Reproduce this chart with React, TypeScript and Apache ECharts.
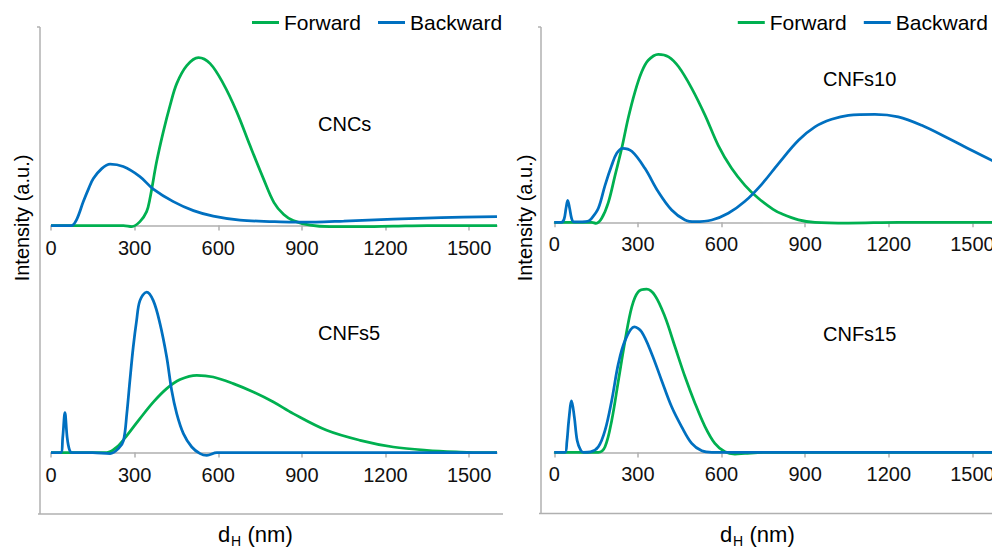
import React, { useEffect, useRef } from "react";
import * as echarts from "echarts";

const FONT = "'Liberation Sans', Arial, Helvetica, sans-serif";
const GREEN = "#00B050";
const BLUE = "#0070C0";
const GRAY = "#B0B0B0";

const xTicks = [0, 300, 600, 900, 1200, 1500];
const seriesNames = ["Forward", "Backward"];
const panelNames = ["CNCs", "CNFs10", "CNFs5", "CNFs15"];

// [d_H (nm), intensity (a.u.)]
const cncsForward = [
  [0, 0], [100, 0], [200, 0], [260, 0], [290, -1], [319, 4], [343, 14], [355, 27], [379, 64],
  [403, 94], [427, 120], [451, 142], [487, 160], [529, 168], [571, 162], [618, 142], [666, 114],
  [714, 80], [762, 47], [800, 23], [835, 11], [869, 5], [929, 0.5], [1000, -1], [1100, -1],
  [1228, -0.5], [1350, 0], [1600, 0],
];
const cncsBackward = [
  [0, 0], [50, 0], [74, 0], [92, 6], [116, 24], [135, 37], [152, 47], [182, 57], [212, 61.5],
  [259, 59], [319, 49], [367, 36.5], [439, 24], [511, 15], [582, 9.5], [678, 5.5], [798, 4],
  [869, 3.5], [950, 3.5], [1050, 4.5], [1228, 6.5], [1400, 8], [1600, 9],
];
const cnfs10Forward = [
  [0, 0], [100, 0], [135, 0], [150, -1], [170, 4], [194, 20], [218, 47], [242, 74], [265, 104],
  [289, 130], [313, 150], [337, 162], [373, 168], [410, 165.5], [446, 155.5], [493, 134],
  [541, 107], [588, 77], [636, 54], [684, 37], [732, 24], [785, 13], [816, 8.5], [876, 2.5],
  [935, 0], [1055, -0.7], [1234, 0], [1600, 0],
];
const cnfs10Backward = [
  [0, 0], [25, 0], [35, 3], [42, 14], [48, 22], [55, 14], [62, 4], [70, 0.5], [100, 0.5],
  [120, 1], [134, 4], [158, 14], [182, 37], [206, 57], [224, 69], [245, 74], [278, 71],
  [325, 54], [373, 30.5], [421, 12.3], [469, 2.3], [505, 0.6], [565, 2.3], [624, 9], [684, 21],
  [744, 38], [805, 59], [876, 82], [935, 95.5], [995, 103], [1055, 107], [1150, 108],
  [1234, 105.5], [1318, 97], [1413, 84], [1497, 72], [1569, 62], [1600, 58],
];
const cnfs5Forward = [
  [0, 0], [100, 0], [200, 0], [236, 5.5], [272, 17], [319, 34], [367, 50.5], [415, 64],
  [463, 73], [523, 77.3], [582, 75.6], [654, 69], [726, 60.6], [798, 50.6], [869, 39],
  [989, 22.3], [1109, 12.3], [1228, 5.6], [1348, 2.3], [1468, 0.6], [1550, 0], [1600, 0],
];
const cnfs5Backward = [
  [0, 0], [35, 0], [42, 15], [50, 40], [58, 15], [66, 3], [75, 0], [150, 0], [212, -1],
  [242, 4], [260, 12], [272, 39], [283, 72], [295, 105.6], [307, 132], [319, 152], [343, 160.6],
  [367, 152], [391, 129], [415, 95.6], [433, 62], [451, 39], [475, 19], [505, 5.6], [535, -1],
  [559, -2.7], [595, 0], [700, 0], [1600, 0],
];
const cnfs15Forward = [
  [0, 0], [100, 0], [158, 0], [182, 5.6], [206, 32], [230, 72], [254, 112], [278, 145.6],
  [301, 160.6], [331, 163.3], [361, 157], [397, 135.6], [433, 105.6], [469, 75.6], [505, 49],
  [541, 25.6], [576, 9], [612, 0.6], [648, -1.7], [684, -1], [750, 0], [1600, 0],
];
const cnfs15Backward = [
  [0, 0], [38, 0], [45, 10], [52, 32], [62, 51.6], [72, 35], [82, 12], [95, 2], [105, 0],
  [130, 0.5], [158, 5.6], [182, 22], [206, 52], [230, 89], [254, 112], [287, 125.6],
  [313, 120.6], [349, 99], [385, 72], [421, 45.6], [457, 25.6], [493, 9], [529, 1.6], [565, 0],
  [1600, 0],
];

const panelData = [
  [cncsForward, cncsBackward],
  [cnfs10Forward, cnfs10Backward],
  [cnfs5Forward, cnfs5Backward],
  [cnfs15Forward, cnfs15Backward],
];

export default function App() {
  const ref = useRef<HTMLDivElement>(null);

  useEffect(() => {
    if (!ref.current) return;
    const chart = echarts.init(ref.current, null, { renderer: "svg" });

    const grids = [
      { left: 51, top: 35.6, width: 446, height: 200 },
      { left: 554.3, top: 32.3, width: 446, height: 200 },
      { left: 51, top: 262.6, width: 446, height: 200 },
      { left: 554.3, top: 262.4, width: 446, height: 200 },
    ].map((g) => ({ ...g, containLabel: false, outerBoundsMode: "none" }));
    const labelPos = [
      [318, 124],
      [823, 79],
      [318, 332.5],
      [823, 333.5],
    ];

    const xAxes = grids.map((_, i) => ({
      type: "value",
      gridIndex: i,
      min: 0,
      max: 1600,
      axisLine: { show: true, onZero: true, lineStyle: { color: GRAY, width: 1.5 } },
      axisTick: { show: true, length: 5, customValues: xTicks, lineStyle: { color: GRAY, width: 1.5 } },
      axisLabel: {
        customValues: xTicks,
        fontSize: 20,
        color: "#111",
        fontFamily: FONT,
        margin: 2,
        hideOverlap: false,
        formatter: (v: number) => String(v),
      },
      splitLine: { show: false },
    }));
    const yAxes = grids.map((_, i) => ({
      type: "value",
      gridIndex: i,
      min: -10,
      max: 190,
      show: false,
    }));

    const series: any[] = [];
    panelData.forEach((pair, i) => {
      pair.forEach((d, k) => {
        series.push({
          type: "line",
          name: seriesNames[k],
          xAxisIndex: i,
          yAxisIndex: i,
          data: d,
          smooth: 0.35,
          symbol: "none",
          lineStyle: { width: 2.75, color: k === 0 ? GREEN : BLUE },
          itemStyle: { color: k === 0 ? GREEN : BLUE },
          z: 2 + k,
        });
      });
    });

    const legendBase = {
      top: 12,
      padding: 0,
      icon: "rect",
      itemWidth: 27,
      itemHeight: 3,
      itemGap: 17,
      selectedMode: false,
      data: seriesNames,
      textStyle: { fontSize: 21, color: "#000", fontFamily: FONT },
    };

    const graphic: any[] = [];
    // frame lines
    [[40, 503, 514], [541, 992, 513.5]].forEach(([x, xr, yb]) => {
      graphic.push({ type: "line", shape: { x1: x, y1: 27, x2: x, y2: yb }, style: { stroke: GRAY, lineWidth: 1.5 } });
      graphic.push({ type: "line", shape: { x1: x - 3, y1: 27, x2: x, y2: 27 }, style: { stroke: GRAY, lineWidth: 1.5 } });
      graphic.push({ type: "line", shape: { x1: x - 2, y1: yb, x2: xr, y2: yb }, style: { stroke: GRAY, lineWidth: 1.5 } });
    });
    // panel labels
    panelNames.forEach((t, i) => {
      graphic.push({
        type: "text",
        x: labelPos[i][0],
        y: labelPos[i][1],
        style: { text: t, fontSize: 20, fontFamily: FONT, fill: "#000", align: "left", verticalAlign: "middle" },
      });
    });
    // axis titles
    [0, 503].forEach((dx) => {
      graphic.push({
        type: "text",
        x: 22 + dx,
        y: 218,
        rotation: Math.PI / 2,
        style: { text: "Intensity (a.u.)", fontSize: 20, fontFamily: FONT, fill: "#000", align: "center", verticalAlign: "middle" },
      });
    });
    [218, 720].forEach((x0) => {
      graphic.push({ type: "text", x: x0, y: 534, style: { text: "d", fontSize: 22, fontFamily: FONT, fill: "#000", align: "left", verticalAlign: "middle" } });
      graphic.push({ type: "text", x: x0 + 13, y: 540.5, style: { text: "H", fontSize: 14, fontFamily: FONT, fill: "#000", align: "left", verticalAlign: "middle" } });
      graphic.push({ type: "text", x: x0 + 29.5, y: 534, style: { text: "(nm)", fontSize: 22, fontFamily: FONT, fill: "#000", align: "left", verticalAlign: "middle" } });
    });

    chart.setOption({
      animation: false,
      backgroundColor: "#fff",
      grid: grids,
      xAxis: xAxes,
      yAxis: yAxes,
      legend: [
        { ...legendBase, left: 252 },
        { ...legendBase, right: 4 },
      ],
      series,
      graphic,
    });

    return () => chart.dispose();
  }, []);

  return (
    <div
      ref={ref}
      style={{ position: "absolute", left: 0, top: 0, width: 992, height: 548, overflow: "hidden" }}
    />
  );
}
